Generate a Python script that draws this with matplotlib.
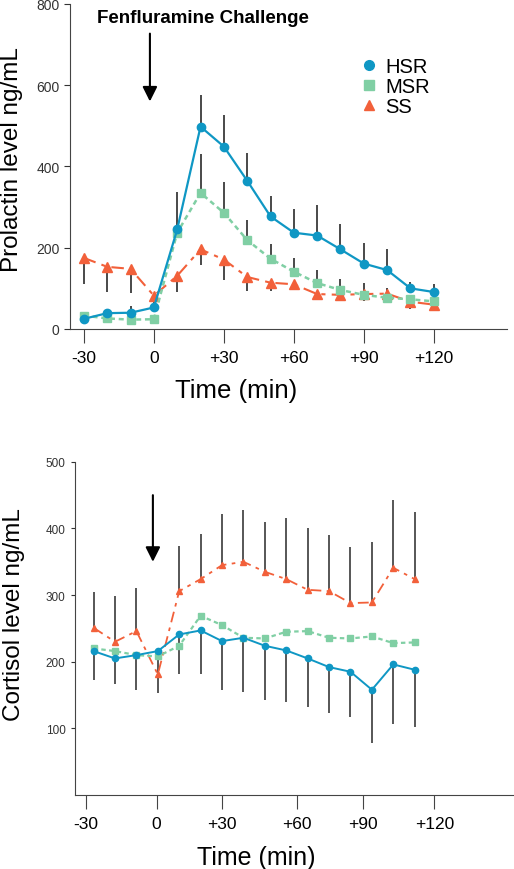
import matplotlib.pyplot as plt
import numpy as np

plt.rcParams['font.family'] = ['Liberation Sans', 'DejaVu Sans']

# sampling times (min relative to fenfluramine)
time = [-30, -20, -10, 0, 10, 20, 30, 40, 50, 60, 70, 80, 90, 100, 110, 120]

# prolactin (ng/mL)
prl_hsr = [25, 39, 40, 53, 245, 498, 449, 365, 277, 237, 230, 196, 161, 145, 100, 91]
prl_hsr_up = [25, 44, 56, 86, 336, 575, 527, 433, 327, 296, 304, 259, 212, 196, 116, 110]
prl_msr = [33, 26, 23, 24, 237, 335, 286, 219, 173, 141, 113, 96, 84, 77, 73, 68]
prl_msr_up = [33, 26, 23, 24, 237, 431, 362, 269, 210, 174, 145, 124, 112, 102, 73, 68]
prl_ss = [175, 153, 148, 82, 131, 196, 171, 128, 114, 110, 86, 84, 86, 87, 67, 60]
prl_ss_lo = [110, 90, 88, 82, 90, 157, 121, 94, 93, 98, 86, 84, 69, 87, 49, 45]

# cortisol (ng/mL)
cort_hsr = [216, 205, 210, 216, 241, 247, 231, 236, 224, 217, 205, 192, 185, 158, 196, 188]
cort_hsr_lo = [172, 166, 158, 153, 182, 182, 157, 155, 143, 139, 132, 123, 117, 78, 107, 102]
cort_msr = [220, 216, 210, 208, 224, 269, 255, 236, 235, 245, 246, 236, 235, 238, 228, 229]
cort_ss = [251, 230, 246, 181, 306, 324, 345, 350, 335, 324, 308, 306, 288, 289, 341, 324]
cort_ss_up = [304, 299, 310, 181, 373, 392, 421, 428, 409, 416, 400, 390, 372, 380, 443, 425]

tick_labels = ['-30', '0', '+30', '+60', '+90', '+120']

c_hsr = '#0f97c4'
c_msr = '#80cfa4'
c_ss = '#f2603a'
c_err = '#3a3a3a'

fig = plt.figure(figsize=(5.14, 8.70), dpi=100)
ax1 = fig.add_axes([0.136, 0.6207, 0.850, 0.3736])
ax2 = fig.add_axes([0.145, 0.085, 0.853, 0.383])

# ---- prolactin ----
ax1.vlines(time, prl_hsr, prl_hsr_up, color=c_err, lw=1.3, zorder=1)
ax1.vlines(time, prl_msr, prl_msr_up, color=c_err, lw=1.3, zorder=1)
ax1.vlines(time, prl_ss_lo, prl_ss, color=c_err, lw=1.3, zorder=1)
ax1.plot(time, prl_ss, color=c_ss, ls=(0, (6, 3, 2, 3)), lw=1.5,
         marker='^', ms=6.5, zorder=2)
ax1.plot(time, prl_msr, color=c_msr, ls=(0, (2, 1.5)), lw=1.8,
         marker='s', ms=5.5, zorder=3)
ax1.plot(time, prl_hsr, color=c_hsr, ls='-', lw=1.6,
         marker='o', ms=6, zorder=4)

ax1.set_xlim(-36, 151.3)
ax1.set_ylim(0, 800)
ax1.set_xticks([-30, 0, 30, 60, 90, 120])
ax1.set_xticklabels(tick_labels, fontsize=12.5)
ax1.set_yticks([0, 200, 400, 600, 800])
ax1.tick_params(axis='y', labelsize=10, labelcolor='#333333', length=4, color='#333333')
ax1.tick_params(axis='x', length=10, pad=5, color='#444444')
ax1.set_xlabel('Time (min)', fontsize=18.5)
ax1.xaxis.set_label_coords(0.38, -0.152)
for s in ['top', 'right']:
    ax1.spines[s].set_visible(False)
for s in ['left', 'bottom']:
    ax1.spines[s].set_color('#444444')
fig.text(0.002, 1 - 160 / 870, 'Prolactin level ng/mL', fontsize=17.5,
         rotation=90, ha='left', va='center')

h1 = ax1.plot([], [], color=c_hsr, marker='o', ls='none', ms=7, label='HSR')[0]
h2 = ax1.plot([], [], color=c_msr, marker='s', ls='none', ms=6.5, label='MSR')[0]
h3 = ax1.plot([], [], color=c_ss, marker='^', ls='none', ms=7.5, label='SS')[0]
ax1.legend(handles=[h1, h2, h3], loc='upper left', bbox_to_anchor=(0.638, 0.868),
           frameon=False, fontsize=14.5, borderpad=0, handletextpad=0.3,
           labelspacing=0.05, handlelength=1.0)

ax1.text(-24.4, 767, 'Fenfluramine Challenge', fontsize=13.5, fontweight='bold',
         va='center', ha='left')
ax1.annotate('', xy=(-1.7, 560), xytext=(-1.7, 727),
             arrowprops=dict(arrowstyle='-|>', color='black', lw=1.5,
                             mutation_scale=22, shrinkA=0, shrinkB=0))

# ---- cortisol ----
ax2.vlines(time, cort_hsr_lo, cort_hsr, color=c_err, lw=1.2, zorder=1)
ax2.vlines(time, cort_ss, cort_ss_up, color=c_err, lw=1.2, zorder=1)
ax2.plot(time, cort_ss, color=c_ss, ls=(0, (6, 3, 2, 3)), lw=1.3,
         marker='^', ms=5, zorder=2)
ax2.plot(time, cort_msr, color=c_msr, ls=(0, (2, 1.5)), lw=1.6,
         marker='s', ms=4.5, zorder=3)
ax2.plot(time, cort_hsr, color=c_hsr, ls='-', lw=1.4,
         marker='o', ms=4.5, zorder=4)

ax2.set_xlim(-38.9, 165.9)
ax2.set_ylim(0, 500)
ax2.set_xticks([-33.5, -0.6, 30.1, 64.9, 95.7, 129.2])
ax2.set_xticklabels(tick_labels, fontsize=12.5)
ax2.set_yticks([100, 200, 300, 400, 500])
ax2.tick_params(axis='y', labelsize=8.5, labelcolor='#333333', length=3, color='#333333')
ax2.tick_params(axis='x', length=10, pad=5, color='#444444')
ax2.set_xlabel('Time (min)', fontsize=18)
ax2.xaxis.set_label_coords(0.414, -0.151)
for s in ['top', 'right']:
    ax2.spines[s].set_visible(False)
for s in ['left', 'bottom']:
    ax2.spines[s].set_color('#444444')
fig.text(0.006, 1 - 615 / 870, 'Cortisol level ng/mL', fontsize=17.5,
         rotation=90, ha='left', va='center')

ax2.annotate('', xy=(-2.3, 350), xytext=(-2.3, 450),
             arrowprops=dict(arrowstyle='-|>', color='black', lw=1.5,
                             mutation_scale=22, shrinkA=0, shrinkB=0))

fig.savefig('out.png', dpi=100)
